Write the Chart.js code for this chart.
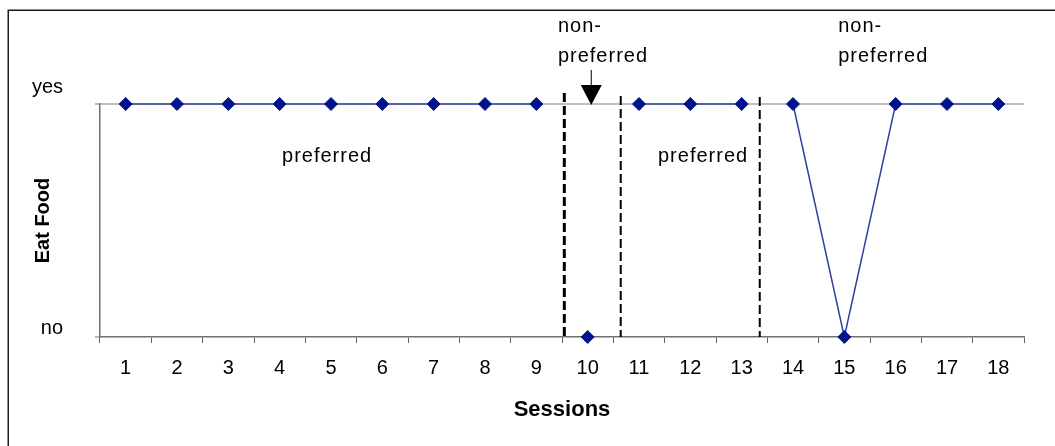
<!DOCTYPE html>
<html lang="en">
<head>
<meta charset="UTF-8">
<title>Eat Food by Session</title>
<script src="https://cdn.jsdelivr.net/npm/chart.js"></script>
<style>
  body { margin: 0; background: #fff; }
  #wrap { width: 1055px; height: 446px; }
</style>
</head>
<body>
<div id="wrap"><canvas id="chart" width="1055" height="446"></canvas></div>
<script>
  // session numbers along the bottom
  const sessions = ['1', '2', '3', '4', '5', '6', '7', '8', '9', '10', '11', '12', '13', '14', '15', '16', '17', '18'];
  // did the child eat the food in that session
  const eatFood = ['yes', 'yes', 'yes', 'yes', 'yes', 'yes', 'yes', 'yes', 'yes', 'no', 'yes', 'yes', 'yes', 'yes', 'no', 'yes', 'yes', 'yes'];
  const answers = ['yes', 'no'];
  // the line is not joined across these phase changes
  const breaksAfter = ['9', '10', '13'];
  const phaseNames = ['preferred', 'non-preferred', 'preferred', 'non-preferred'];

  const FONT = '"Liberation Sans", Arial, sans-serif';

  const phasePlugin = {
    id: 'phases',
    beforeDraw(chart) {
      // outer frame, only top and left edges fall inside the picture
      const ctx = chart.ctx;
      ctx.save();
      ctx.strokeStyle = '#1a1a1a';
      ctx.lineWidth = 1.5;
      ctx.strokeRect(8.25, 10.25, chart.width + 50, chart.height + 50);
      ctx.restore();
    },
    beforeDatasetsDraw(chart, args, opts) {
      const { ctx, chartArea, scales: { x, y } } = chart;
      const yesY = y.getPixelForValue(0);
      opts.dividers.forEach(d => {
        const px = x.getPixelForValue(d.at);
        ctx.save();
        ctx.strokeStyle = '#000';
        ctx.lineWidth = d.width;
        ctx.setLineDash([9, 4]);
        ctx.beginPath();
        ctx.moveTo(px, yesY - d.rise);
        ctx.lineTo(px, chartArea.bottom);
        ctx.stroke();
        ctx.restore();
      });
    },
    afterDatasetsDraw(chart, args, opts) {
      const { ctx, scales: { x, y } } = chart;
      const yesY = y.getPixelForValue(0);

      ctx.save();
      ctx.fillStyle = '#000';
      ctx.font = '20px ' + FONT;
      ctx.letterSpacing = '1px';
      ctx.textAlign = 'left';
      ctx.textBaseline = 'alphabetic';
      opts.labels.forEach((l, i) => {
        const lines = phaseNames[i].replace('-', '-\n').split('\n');
        const px = x.getPixelForValue(l.at);
        lines.forEach((t, j) => {
          ctx.fillText(t, px, yesY + l.dy - (lines.length - 1 - j) * 30);
        });
      });
      ctx.restore();

      // arrow pointing at session 10
      const a = opts.arrow;
      const ax = x.getPixelForValue(a.at);
      ctx.save();
      ctx.strokeStyle = '#000';
      ctx.fillStyle = '#000';
      ctx.lineWidth = 1;
      ctx.beginPath();
      ctx.moveTo(ax, yesY - a.top);
      ctx.lineTo(ax, yesY - a.head);
      ctx.stroke();
      ctx.beginPath();
      ctx.moveTo(ax - a.half, yesY - a.head);
      ctx.lineTo(ax + a.half, yesY - a.head);
      ctx.lineTo(ax, yesY + 1);
      ctx.closePath();
      ctx.fill();
      ctx.restore();
    }
  };

  new Chart(document.getElementById('chart'), {
    type: 'line',
    data: {
      labels: sessions,
      datasets: [{
        label: 'Eat Food',
        data: eatFood,
        borderColor: '#3041a3',
        borderWidth: 1.5,
        pointStyle: 'rectRot',
        pointRadius: 6.5,
        pointHoverRadius: 6.5,
        pointBackgroundColor: '#00138a',
        pointBorderColor: '#00138a',
        pointBorderWidth: 1,
        tension: 0,
        clip: false,
        segment: {
          borderColor: ctx => breaksAfter.includes(sessions[ctx.p0DataIndex]) ? 'transparent' : undefined
        }
      }]
    },
    options: {
      responsive: false,
      animation: false,
      events: [],
      layout: { padding: { top: 104, right: 31, left: 0, bottom: 0 } },
      plugins: {
        legend: { display: false },
        tooltip: { enabled: false },
        phases: {
          dividers: [
            { at: 8.545, rise: 11, width: 3 },
            { at: 9.644, rise: 8, width: 2 },
            { at: 12.352, rise: 7, width: 2 }
          ],
          labels: [
            { at: 3.046, dy: 58 },
            { at: 8.42, dy: -42 },
            { at: 10.37, dy: 58 },
            { at: 13.88, dy: -42 }
          ],
          arrow: { at: 9.07, top: 34, head: 19, half: 10.5 }
        }
      },
      scales: {
        x: {
          type: 'category',
          offset: true,
          afterFit: s => { s.height = 109; },
          grid: {
            offset: true,
            drawOnChartArea: false,
            tickLength: 6,
            tickColor: '#606060',
            tickWidth: 1
          },
          border: { color: '#707070', width: 1.5 },
          ticks: {
            color: '#000',
            font: { family: FONT, size: 20 },
            padding: 13,
            maxRotation: 0,
            autoSkip: false
          },
          title: {
            display: true,
            text: 'Sessions',
            color: '#000',
            font: { family: FONT, size: 22, weight: 'bold' },
            padding: { top: 0, bottom: 23 }
          }
        },
        y: {
          type: 'category',
          labels: answers,
          offset: false,
          afterFit: s => { s.width = 100; },
          grid: {
            color: ctx => ctx.index === 0 ? '#c0c0c0' : 'transparent',
            lineWidth: 2,
            tickLength: 5,
            tickColor: '#707070',
            tickWidth: 1
          },
          border: { color: '#707070', width: 1.5 },
          ticks: {
            color: '#000',
            font: { family: FONT, size: 20, lineHeight: '17px' },
            padding: 32,
            // Excel draws these labels a little above their tick
            callback: function (value) {
              const l = this.getLabelForValue(value);
              return l === 'yes' ? [l, '', ''] : [l, ''];
            }
          },
          title: {
            display: true,
            text: 'Eat Food',
            color: '#000',
            font: { family: FONT, size: 20, weight: 'bold' },
            padding: { top: 31, bottom: 0 }
          }
        }
      }
    },
    plugins: [phasePlugin]
  });
</script>
</body>
</html>
